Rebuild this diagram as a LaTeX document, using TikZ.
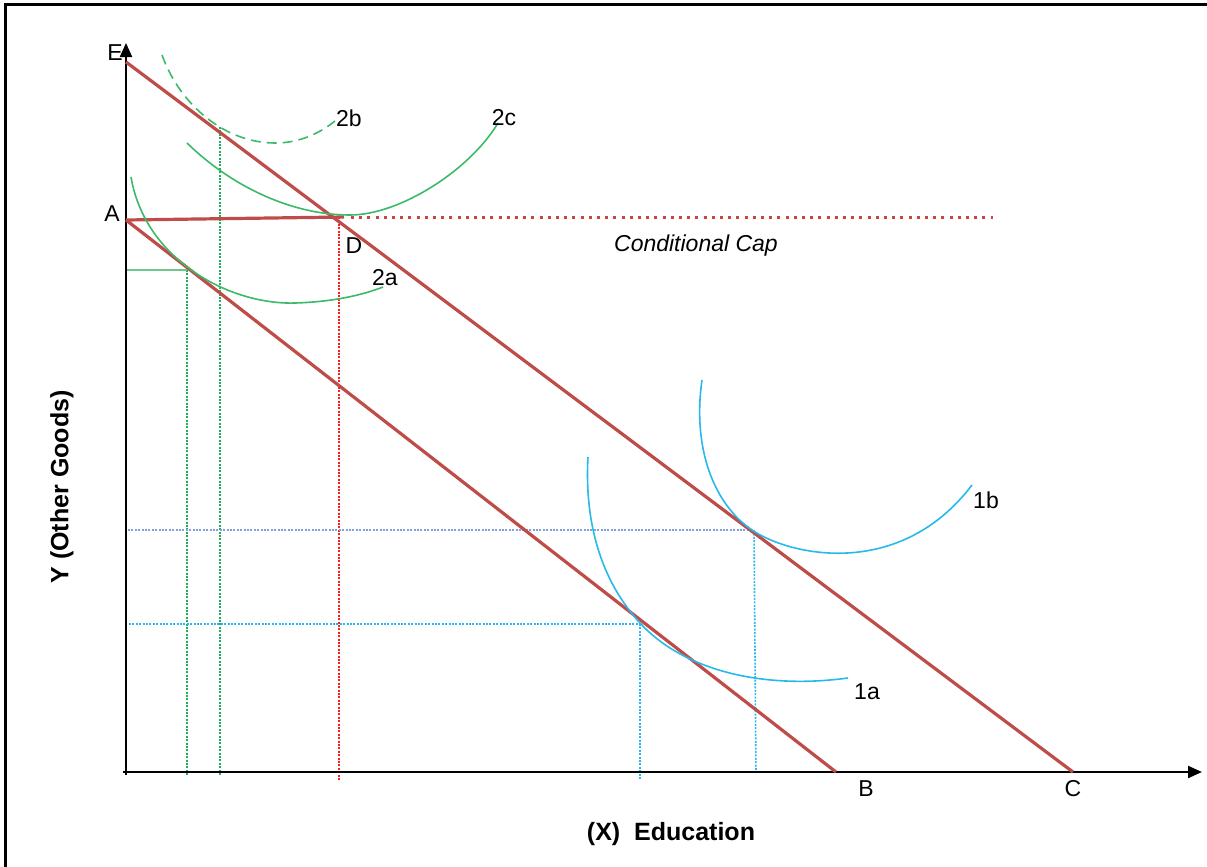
\documentclass[tikz,border=0pt]{standalone}
\usepackage{fontspec}
\setmainfont{Liberation Sans}
\usetikzlibrary{arrows.meta}
\definecolor{budget}{RGB}{190,76,72}
\definecolor{capred}{RGB}{200,70,70}
\definecolor{icgreen}{RGB}{60,185,105}
\definecolor{dotgreen}{RGB}{30,175,90}
\definecolor{lgreen}{RGB}{110,200,140}
\definecolor{icblue}{RGB}{40,185,235}
\definecolor{steel}{RGB}{130,160,220}
\definecolor{lblue}{RGB}{40,185,240}
\definecolor{vred}{RGB}{255,30,30}
\tikzset{
  axisline/.style={line width=1.1pt,black},
  budgetline/.style={line width=1.6pt,budget},
  capline/.style={line width=1.5pt,capred,dash pattern=on 1.5pt off 2.6pt},
  curve/.style={line width=0.8pt},
  guide/.style={line width=0.8pt,dash pattern=on 1pt off 0.7pt},
  lbl/.style={font=\fontsize{11.5}{13}\selectfont,inner sep=0pt},
  axlbl/.style={font=\fontsize{12.5}{14}\selectfont\bfseries,inner sep=0pt},
  frameline/.style={line width=1.5pt,black}
}
\begin{document}
\begin{tikzpicture}[x=0.5pt,y=-0.5pt]
\useasboundingbox (0,0) rectangle (1207,867);
% frame
\coordinate (f1) at (5,867);
\coordinate (f2) at (5,4);
\coordinate (f3) at (1207,4);
\draw[frameline] (f1) -- (f2) -- (f3);
% key points
\coordinate (O) at (126,772);
\coordinate (Ob) at (126,775);
\coordinate (Ol) at (123,772);
\coordinate (ytop) at (126,43);
\coordinate (xend) at (1202,772);
\coordinate (Ept) at (126,62);
\coordinate (Apt) at (126,220);
\coordinate (Bpt) at (836,772);
\coordinate (Cpt) at (1073,772);
\coordinate (Dpt) at (339,217);
\coordinate (Dend) at (344,217);
\coordinate (capstart) at (351,217);
\coordinate (capend) at (993,217);
% guide lines
\coordinate (g1t) at (187,270); \coordinate (g1b) at (187,776);
\coordinate (g2t) at (220,127); \coordinate (g2b) at (220,776);
\coordinate (g3b) at (339,780);
\coordinate (h1l) at (126,270);
\coordinate (h2l) at (128,530); \coordinate (h2r) at (752,530);
\coordinate (h3l) at (129,624); \coordinate (h3r) at (640,624);
\coordinate (v3b) at (640,780);
\coordinate (v4b) at (756,773); \coordinate (v4t) at (754,530);
\draw[guide,dotgreen] (g1t) -- (g1b);
\draw[guide,dotgreen] (g2t) -- (g2b);
\draw[guide,vred] (Dpt) -- (g3b);
\draw[line width=0.7pt,lgreen] (h1l) -- (g1t);
\draw[guide,steel] (h2l) -- (h2r);
\draw[guide,lblue] (h3l) -- (h3r);
\draw[guide,lblue] (h3r) -- (v3b);
\draw[guide,lblue] (v4t) -- (v4b);
% axes
\draw[axisline,-{Triangle[length=7pt,width=6pt]}] (Ob) -- (ytop);
\draw[axisline,-{Triangle[length=7pt,width=6pt]}] (Ol) -- (xend);
% budget lines
\draw[budgetline] (Ept) -- (Cpt);
\draw[budgetline] (Apt) -- (Bpt);
\draw[budgetline] (Apt) -- (Dend);
\draw[capline] (capstart) -- (capend);
% indifference curves
\draw[curve,icgreen] (131,177) .. controls (145,260) and (230,305) .. (295,303)
  .. controls (330,302) and (360,296) .. (383,287);
\draw[curve,icgreen,dash pattern=on 5pt off 3pt] (162,55) .. controls (180,105) and (225,143) .. (275,143)
  .. controls (300,143) and (320,133) .. (335,121);
\draw[curve,icgreen] (187,143) .. controls (230,185) and (290,215) .. (350,215)
  .. controls (400,215) and (470,170) .. (498,123);
\draw[curve,icblue] (588,457) .. controls (584,530) and (605,585) .. (640,623)
  .. controls (682,669) and (760,690) .. (848,678);
\draw[curve,icblue] (702,380) .. controls (692,450) and (715,505) .. (752,530)
  .. controls (790,556) and (900,580) .. (972,485);
% labels
\node[lbl] (lE) at (115,53) {E};
\node[lbl] (lA) at (112,214) {A};
\node[lbl] (lD) at (354,246) {D};
\node[lbl] (l2b) at (349,118) {2b};
\node[lbl] (l2c) at (504,118) {2c};
\node[lbl] (l2a) at (385,278) {2a};
\node[lbl] (l1a) at (867,692) {1a};
\node[lbl] (l1b) at (986,500) {1b};
\node[lbl] (lB) at (866,789) {B};
\node[lbl] (lC) at (1073,789) {C};
\node[lbl,font=\fontsize{11.5}{13}\selectfont\itshape] (lcap) at (696,246) {Conditional Cap};
\node[axlbl] (lx) at (671,834) {(X)\ \ Education};
\node[axlbl,rotate=90] (ly) at (62,487) {Y (Other Goods)};
\end{tikzpicture}
\end{document}
